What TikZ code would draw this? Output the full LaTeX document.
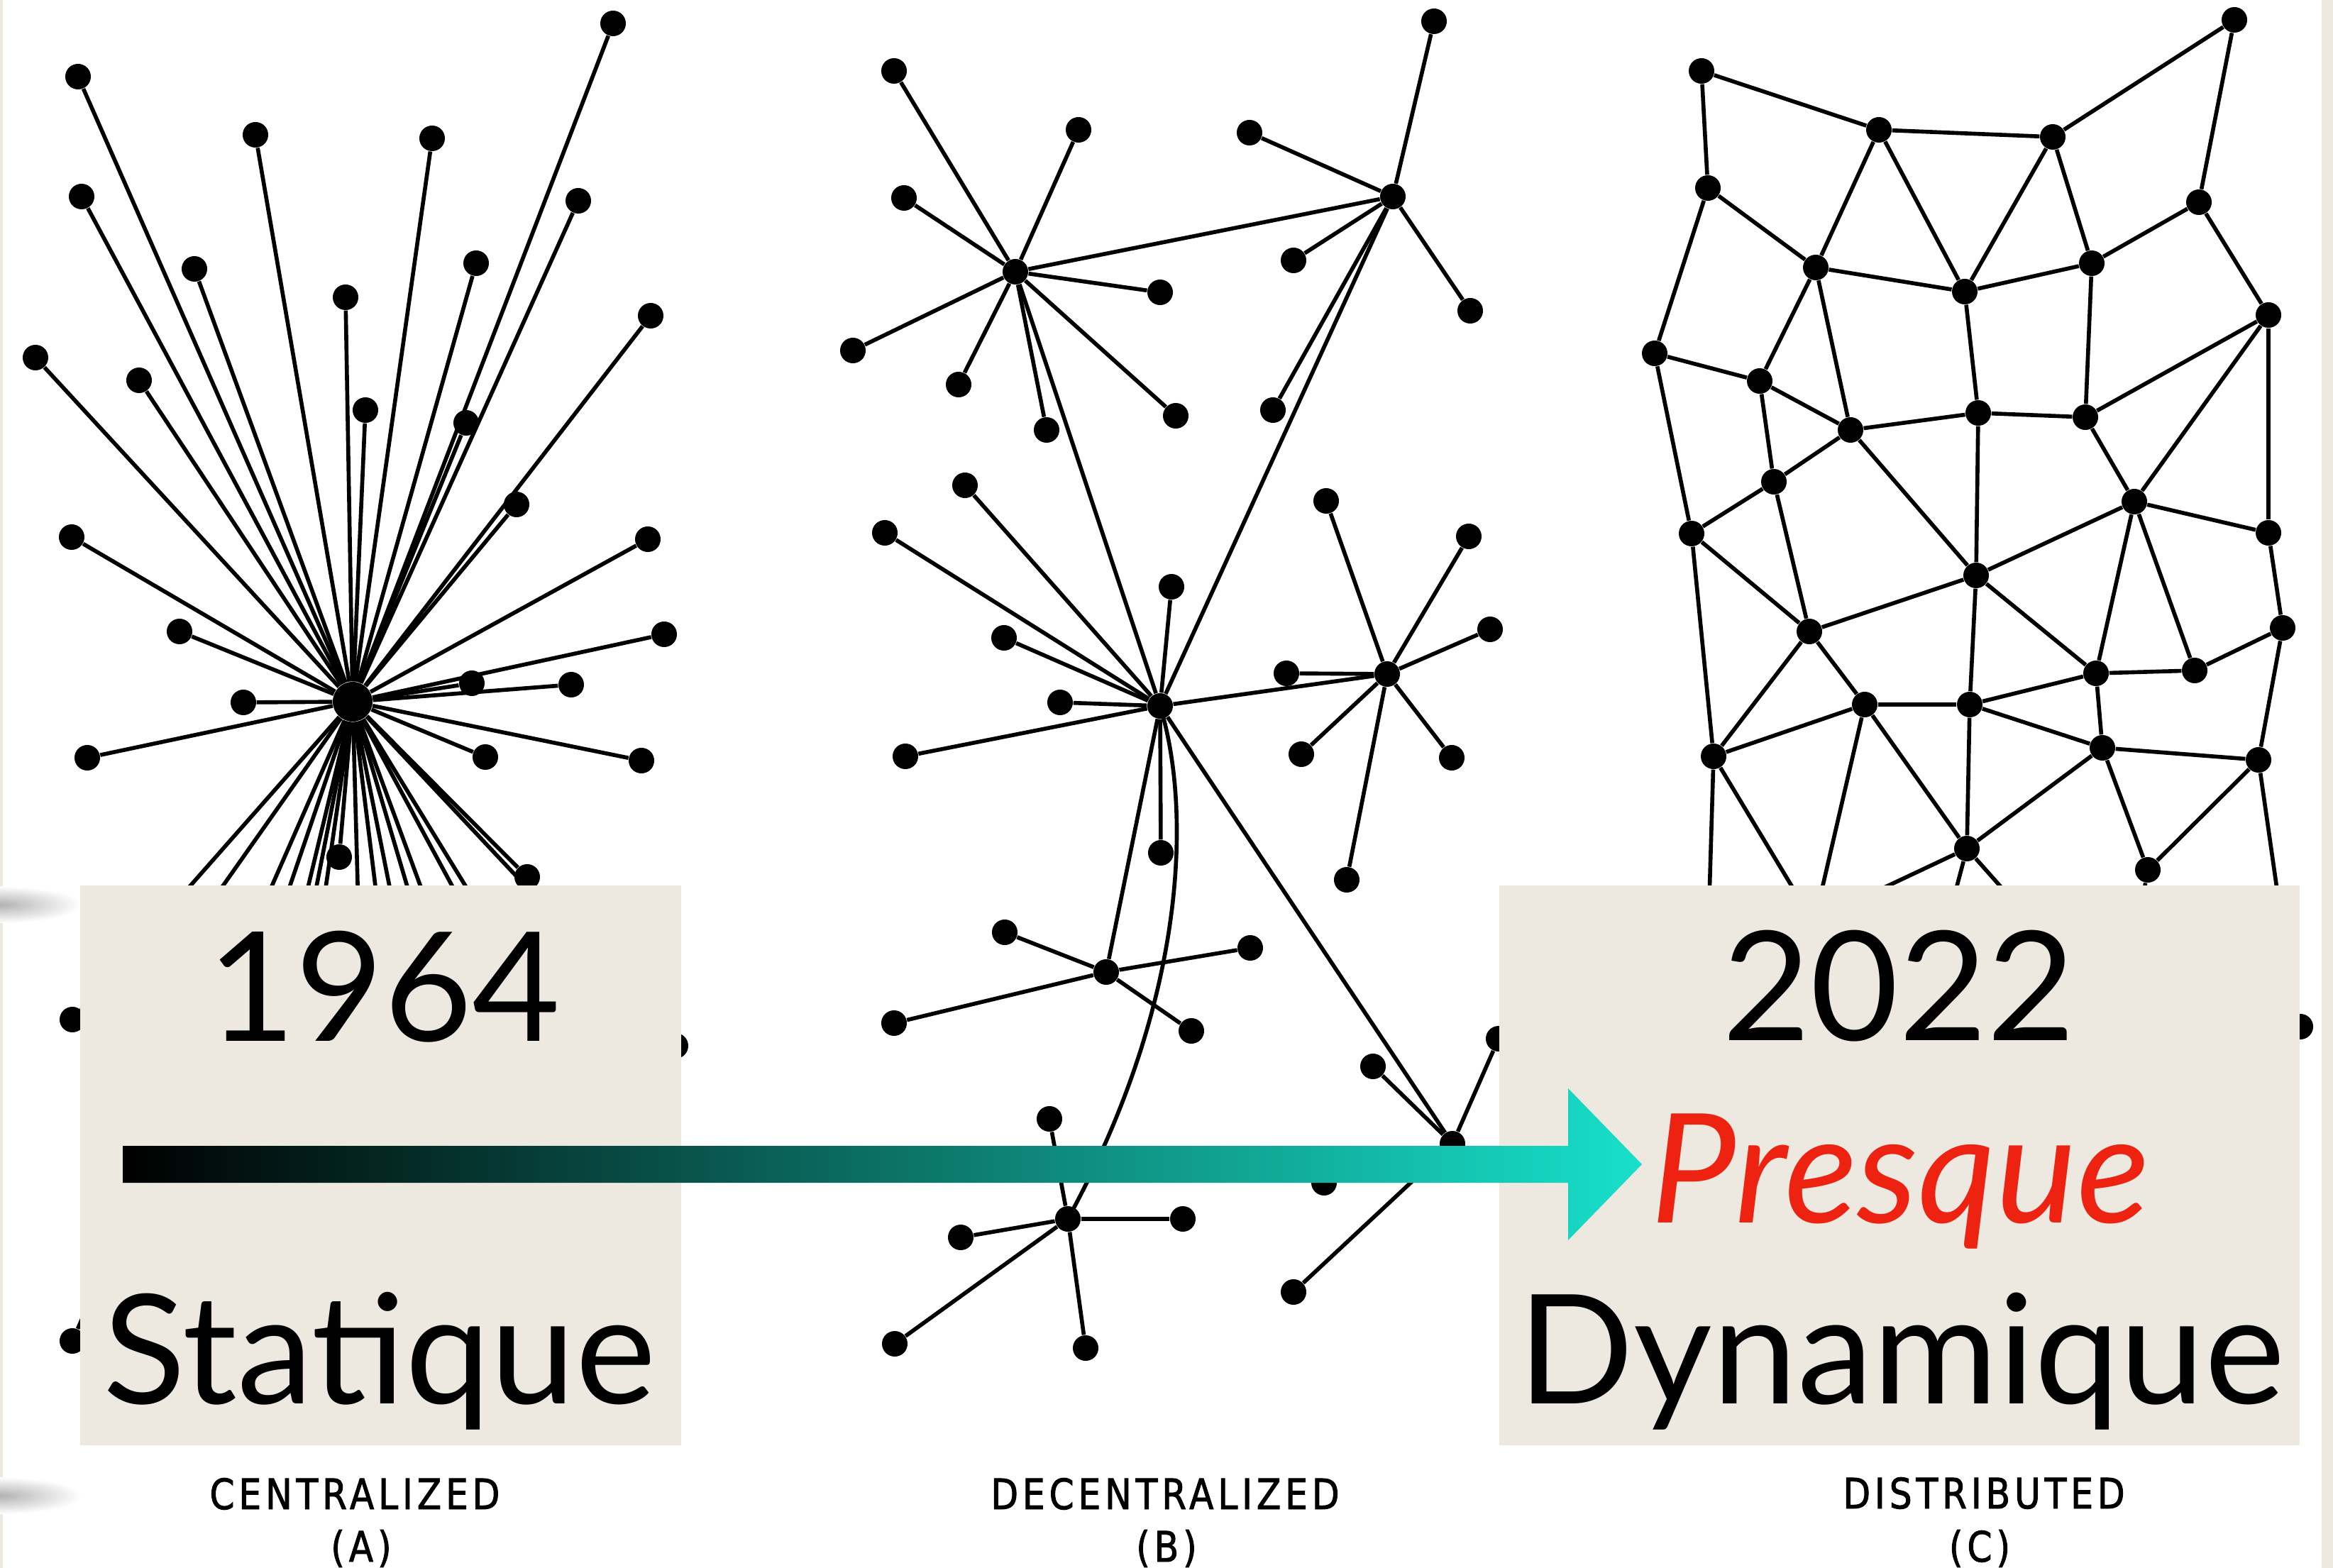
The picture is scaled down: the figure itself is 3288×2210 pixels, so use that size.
\documentclass[tikz,border=0pt]{standalone}
\usepackage{fontspec}
\usetikzlibrary{calc}
\setmainfont{Lato}
\newfontfamily\capfont[FakeStretch=0.85,LetterSpace=10,FakeBold=1.6]{DejaVu Sans}
\definecolor{boxbg}{RGB}{237,233,224}
\definecolor{presq}{RGB}{238,34,16}
\definecolor{arrowend}{RGB}{23,224,202}
\begin{document}
\begin{tikzpicture}[x=0.01cm,y=-0.01cm,
  dot/.style={circle,fill=black,inner sep=0pt,minimum size=0.36cm},
  hubdot/.style={circle,fill=black,inner sep=0pt,minimum size=0.56cm},
  ln/.style={line width=1.6pt},
  boxst/.style={fill=boxbg,inner sep=0pt,anchor=north west},
  bigtxt/.style={font=\fontsize{61}{70}\selectfont,anchor=base,inner sep=0pt},
  captxt/.style={font=\capfont\fontsize{16.8}{19}\selectfont,anchor=base,inner sep=0pt}]
\useasboundingbox (0,0) rectangle (3288,2210);
\fill[white] (0,0) rectangle (3288,2210);
\fill[boxbg] (0,0) rectangle (4,2210);
\fill[boxbg] (3272,0) rectangle (3288,2210);
\shade[inner color=black!30,outer color=white] (0,1275) ellipse (115 and 26);
\shade[inner color=black!30,outer color=white] (0,2108) ellipse (115 and 26);

% ---------------- Panel A : centralized ----------------
\node[hubdot] (A0) at (497,989) {};
\foreach \n/\x/\y in {1/110/108,2/360/190,3/609/195,4/864/33,5/115/277,6/815/283,
  7/274/379,8/671/371,9/487/419,10/917/445,11/50/504,12/196/536,13/515/578,
  14/657/596,15/728/711,16/101/757,17/913/760,18/253/890,19/936/894,20/343/990,
  21/665/963,22/805/965,23/123/1068,24/684/1067,25/904/1072,26/478/1208,27/743/1236,
  28/102/1437,29/102/1890,30/952/1474}{
  \node[dot] (A\n) at (\x,\y) {};
  \draw[ln] (A0) -- (A\n);
}
\foreach \n/\x in {1/137,2/323,3/374,4/397,5/423,6/511,7/560,8/599,9/648,10/685,11/773,12/810}{
  \coordinate (Ah\n) at (\x,1500);
  \draw[ln] (A0) -- (Ah\n);
}

% ---------------- Panel B : decentralized ----------------
\node[dot] (B1) at (1431,383) {};
\node[dot] (B2) at (1963,277) {};
\node[dot] (B3) at (1635,995) {};
\node[dot] (B4) at (1955,950) {};
\node[dot] (B5) at (1559,1370) {};
\node[dot] (B6) at (1505,1718) {};
\node[dot] (B7) at (2047,1612) {};
\foreach \n/\x/\y in {a/1260/100,b/1520/183,c/1274/279,d/1635/412,e/1202/494,f/1351/542,g/1475/606,h/1657/586}{
  \node[dot] (B1\n) at (\x,\y) {}; \draw[ln] (B1) -- (B1\n);}
\foreach \n/\x/\y in {a/2021/30,b/1761/187,c/1823/367,d/2072/438,e/1794/578}{
  \node[dot] (B2\n) at (\x,\y) {}; \draw[ln] (B2) -- (B2\n);}
\foreach \n/\x/\y in {a/1360/684,b/1247/751,c/1651/827,d/1415/899,e/1494/990,f/1276/1066,g/1636/1202}{
  \node[dot] (B3\n) at (\x,\y) {}; \draw[ln] (B3) -- (B3\n);}
\foreach \n/\x/\y in {a/1869/706,b/2070/756,c/2100/887,d/1813/949,e/1834/1063,f/2046/1068,g/1898/1240}{
  \node[dot] (B4\n) at (\x,\y) {}; \draw[ln] (B4) -- (B4\n);}
\foreach \n/\x/\y in {a/1416/1314,b/1762/1336,c/1260/1442,d/1679/1453}{
  \node[dot] (B5\n) at (\x,\y) {}; \draw[ln] (B5) -- (B5\n);}
\foreach \n/\x/\y in {a/1479/1577,b/1667/1718,c/1354/1744,d/1261/1894,e/1530/1900}{
  \node[dot] (B6\n) at (\x,\y) {}; \draw[ln] (B6) -- (B6\n);}
\foreach \n/\x/\y in {a/1935/1503,b/1823/1821,c/1866/1667,d/2112/1464}{
  \node[dot] (B7\n) at (\x,\y) {}; \draw[ln] (B7) -- (B7\n);}
\draw[ln] (B1) -- (B2);
\draw[ln] (B1) -- (B3);
\draw[ln] (B2) -- (B3);
\draw[ln] (B3) -- (B4);
\draw[ln] (B3) -- (B5);
\draw[ln] (B3) -- (B7);
\draw[ln] (B3.center) .. controls (1682,1150) and (1668,1420) .. (B6.center);

% ---------------- Panel C : distributed ----------------
\foreach \n/\x/\y in {1/2398/100,2/2648/183,3/2893/193,4/3149/28,5/2407/265,6/3099/285,
  7/2559/377,8/2769/411,9/2948/371,10/3197/444,11/2332/498,12/2480/537,13/2608/606,
  14/2788/582,15/2939/588,16/2500/679,17/3008/707,18/2384/752,19/3197/751,20/2785/811,
  21/2550/890,22/3217/885,23/2954/949,24/3093/945,25/2628/993,26/2776/993,27/2415/1066,
  28/2963/1054,29/3183/1071,30/2772/1196,31/3027/1226,32/3242/1447}{
  \node[dot] (C\n) at (\x,\y) {};
}
\foreach \a/\b in {1/2,1/5,2/3,2/7,2/8,3/4,3/8,3/9,4/6,5/7,5/11,6/9,6/10,7/8,7/12,7/13,
  8/9,8/14,9/15,10/15,10/17,10/19,11/12,11/18,12/13,12/16,13/14,13/16,13/20,14/15,14/20,
  15/17,16/18,16/21,17/19,17/20,17/23,17/24,18/21,18/27,19/22,20/21,20/23,20/26,21/25,
  21/27,22/24,22/29,23/24,23/26,23/28,25/26,25/27,25/30,26/28,26/30,28/29,28/30,28/31,29/31}{
  \draw[ln] (C\a) -- (C\b);
}
\coordinate (Ch1) at (2405,1400);
\coordinate (Ch2) at (2580,1340);
\coordinate (Ch3) at (2550,1330);
\coordinate (Ch4) at (2509,1320);
\coordinate (Ch5) at (2739,1320);
\coordinate (Ch6) at (2882,1320);
\coordinate (Ch7) at (3010,1320);
\coordinate (Ch8) at (3220,1330);
\coordinate (Ch9) at (3180,1500);
\draw[ln] (C27) -- (Ch1);
\draw[ln] (C27) -- (Ch2);
\draw[ln] (C25) -- (Ch3);
\draw[ln] (C30) -- (Ch4);
\draw[ln] (C30) -- (Ch5);
\draw[ln] (C30) -- (Ch6);
\draw[ln] (C31) -- (Ch7);
\draw[ln] (C29) -- (Ch8);
\draw[ln] (C32) -- (Ch9);

% ---------------- Boxes ----------------
\node[boxst,minimum width=8.47cm,minimum height=7.89cm] (boxA) at (112,1247) {};
\node[boxst,minimum width=11.28cm,minimum height=7.89cm] (boxC) at (2112,1247) {};

% ---------------- Arrow ----------------
\coordinate (arS) at (173,1641);
\coordinate (arT) at (2314,1641);
\shade[left color=black,right color=arrowend]
  ($(arS)+(0,-26)$) -- (2210,1615) -- (2210,1534) -- (arT) -- (2210,1748) -- (2210,1667) -- ($(arS)+(0,26)$) -- cycle;

% ---------------- Texts ----------------
\node[bigtxt] (t1964) at (541,1467) {1964};
\node[bigtxt] (tstat) at (535,1978) {Statique};
\node[bigtxt] (t2022) at (2676,1466) {2022};
\node[bigtxt,text=presq,font=\fontsize{61}{70}\selectfont\itshape] (tpres) at (2678,1723) {Presque};
\node[bigtxt] (tdyn) at (2680,1978) {Dynamique};

\node[captxt] (capA) at (500,2127) {CENTRALIZED};
\node[captxt] (capAl) at (509,2201) {(A)};
\node[captxt] (capB) at (1642,2127) {DECENTRALIZED};
\node[captxt] (capBl) at (1644,2201) {(B)};
\node[captxt] (capC) at (2796,2126) {DISTRIBUTED};
\node[captxt] (capCl) at (2790,2201) {(C)};
\end{tikzpicture}
\end{document}
